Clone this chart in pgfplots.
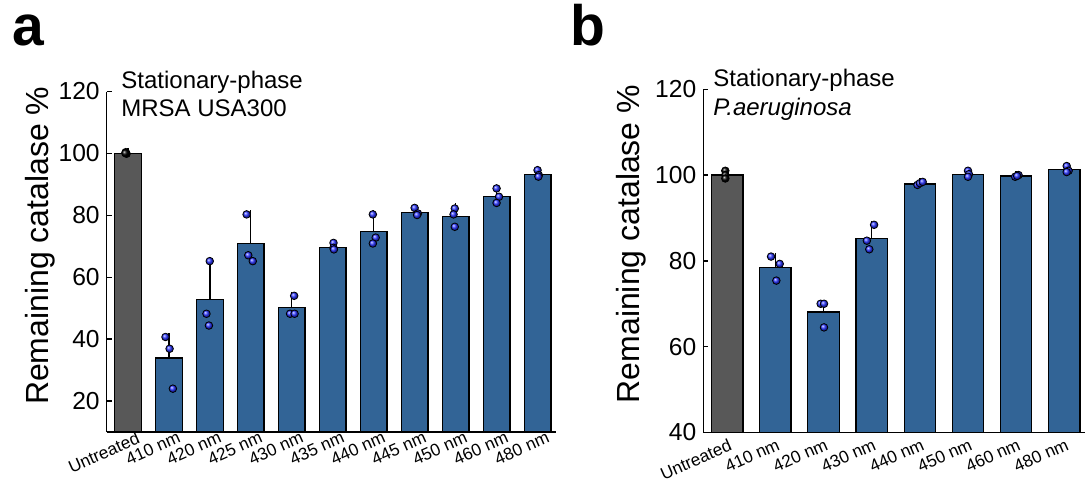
\documentclass[border=0pt]{standalone}
\usepackage{fontspec}
\setmainfont{Liberation Sans}
\usepackage{pgfplots}
\usepackage{pgfplotstable}
\pgfplotsset{compat=1.18}

\definecolor{barblue}{RGB}{50,100,150}
\definecolor{bargray}{RGB}{88,88,88}
\definecolor{dotblue}{RGB}{40,50,255}

% panel a: MRSA USA300
\pgfplotstableread{
x y e
0 100.0 0.5
}\aUntr
\pgfplotstableread{
x y e
1 33.9 6.8
2 52.8 12.4
3 70.9 9.4
4 50.3 3.7
5 69.6 1.1
6 74.7 5.6
7 80.8 1.2
8 79.7 2.9
9 86.2 2.3
10 93.2 1.1
}\aBars
\pgfplotstableread{
x y
-0.05 100.4
-0.03 99.9
-0.06 100.1
}\aUntrDots
\pgfplotstableread{
x y
0.92 40.7
1.02 36.9
1.10 24.0
2.00 65.2
1.92 48.2
1.98 44.4
2.90 80.3
2.94 67.1
3.05 65.2
4.06 54.0
3.96 48.2
4.07 48.2
5.02 71.1
5.02 69.5
5.03 69.0
5.98 80.3
6.05 72.8
5.98 70.9
7.00 82.4
7.08 80.6
7.06 80.1
7.98 82.2
7.95 80.3
7.98 76.3
9.00 88.7
9.06 86.0
9.00 84.0
10.00 94.6
10.03 93.0
10.02 92.5
}\aDots

% panel b: P. aeruginosa
\pgfplotstableread{
x y e
0 100.0 0.8
}\bUntr
\pgfplotstableread{
x y e
1 78.5 2.3
2 68.1 1.6
3 85.3 3.1
4 97.9 0.4
5 100.2 0.7
6 99.8 0.2
7 101.2 0.7
}\bBars
\pgfplotstableread{
x y
-0.04 101.0
-0.04 100.0
-0.04 99.2
}\bUntrDots
\pgfplotstableread{
x y
0.91 81.0
1.09 79.3
1.02 75.4
1.94 70.0
2.01 70.0
2.01 64.5
3.05 88.4
2.90 84.7
2.95 82.7
3.95 97.7
4.00 98.1
4.06 98.4
5.00 101.0
5.02 100.2
5.00 99.6
5.98 99.6
6.05 100.0
6.02 99.8
7.05 102.1
7.09 101.0
7.05 100.7
}\bDots

\pgfplotsset{
  panel/.style={
    scale only axis,
    axis x line=bottom, axis y line=left,
    axis line style={-, line width=0.8pt},
    tick align=inside, major tick length=2.5pt,
    tick style={line width=0.7pt, black},
    xtick style={draw=none},
    xtick={0,...,10},
    /pgf/number format/assume math mode=true,
    yticklabel style={font=\fontsize{12.3}{14}\selectfont},
    xticklabel style={rotate=24, anchor=north east, inner sep=0pt,
      font=\fontsize{8.6}{10}\selectfont},
    ylabel={Remaining catalase \%},
    clip=true,
  },
  bars/.style={ybar, bar shift=0pt, bar width=0.652, draw=black, line width=0.6pt,
    error bars/y dir=plus, error bars/y explicit,
    error bars/error bar style={line width=0.75pt, black},
    error bars/error mark options={mark size=2pt, line width=0.75pt, black}},
  dots/.style={only marks, mark=ball, ball color=dotblue, mark size=1.9pt},
}

\begin{document}
\begin{tikzpicture}
\useasboundingbox (0,0) rectangle (544pt,-239.5pt);

\node[anchor=base west, inner sep=0pt, font=\fontsize{28.5}{30}\selectfont\bfseries] at (6pt,-22.5pt) {a};
\node[anchor=base west, inner sep=0pt, font=\fontsize{28.5}{30}\selectfont\bfseries] at (285pt,-22.5pt) {b};

\begin{axis}[panel,
  at={(53.35pt,-216pt)}, anchor=south west,
  width=224.65pt, height=170.25pt,
  xmin=-0.515, xmax=10.45, ymin=10, ymax=120,
  ytick={20,40,60,80,100,120},
  xticklabels={Untreated,410 nm,420 nm,425 nm,430 nm,435 nm,440 nm,445 nm,450 nm,460 nm,480 nm},
  xticklabel style={xshift=4pt, yshift=-1pt},
  ylabel style={font=\fontsize{16}{18}\selectfont, at={(axis description cs:-0.13,0.547)}, anchor=base},
]
\addplot[bars, fill=bargray] table[x=x, y=y, y error=e] {\aUntr};
\addplot[bars, fill=barblue] table[x=x, y=y, y error=e] {\aBars};
\addplot[only marks, mark=ball, ball color=black, mark size=1.9pt] table[x=x, y=y] {\aUntrDots};
\addplot[dots] table[x=x, y=y] {\aDots};
\end{axis}
\node[anchor=base west, inner sep=0pt, font=\fontsize{12}{14}\selectfont] at (60.5pt,-44pt) {Stationary-phase};
\node[anchor=base west, inner sep=0pt, font=\fontsize{12}{14}\selectfont] at (60.5pt,-58pt) {MRSA USA300};

\begin{axis}[panel,
  at={(351.65pt,-216.25pt)}, anchor=south west,
  width=190.85pt, height=171.65pt,
  xmin=-0.497, xmax=7.43, ymin=40, ymax=120,
  ytick={40,60,80,100,120},
  xticklabels={Untreated,410 nm,420 nm,430 nm,440 nm,450 nm,460 nm,480 nm},
  xticklabel style={xshift=-0.75pt, yshift=-2.5pt},
  ylabel style={font=\fontsize{16}{18}\selectfont, at={(axis description cs:-0.168,0.549)}, anchor=base},
]
\addplot[bars, fill=bargray] table[x=x, y=y, y error=e] {\bUntr};
\addplot[bars, fill=barblue] table[x=x, y=y, y error=e] {\bBars};
\addplot[only marks, mark=ball, ball color=black, mark size=1.9pt] table[x=x, y=y] {\bUntrDots};
\addplot[dots] table[x=x, y=y] {\bDots};
\end{axis}
\node[anchor=base west, inner sep=0pt, font=\fontsize{12}{14}\selectfont] at (356.5pt,-43.3pt) {Stationary-phase};
\node[anchor=base west, inner sep=0pt, font=\fontsize{12}{14}\selectfont\itshape] at (356.5pt,-57.5pt) {P.aeruginosa};
\end{tikzpicture}
\end{document}
